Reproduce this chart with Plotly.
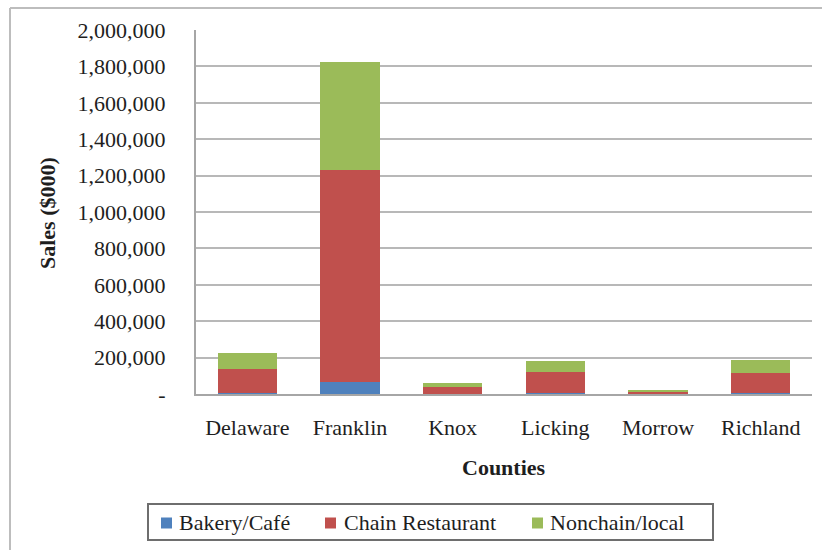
import plotly.graph_objects as go

# County restaurant sales, $000
counties = ["Delaware", "Franklin", "Knox", "Licking", "Morrow", "Richland"]
bakery_cafe = [3000, 68000, 2000, 3000, 1000, 3000]
chain_restaurant = [134000, 1165000, 35000, 118000, 11000, 110000]
nonchain_local = [88000, 590000, 23000, 63000, 5000, 74000]
series_names = ["Bakery/Café", "Chain Restaurant", "Nonchain/local"]
series_colors = ["#4F81BD", "#C0504D", "#9BBB59"]

y_ticks = [0, 200000, 400000, 600000, 800000, 1000000,
           1200000, 1400000, 1600000, 1800000, 2000000]
y_tick_text = ["-"] + [f"{v:,}" for v in y_ticks[1:]]

W, H = 822, 550
ML, MR, MT, MB = 196, 10, 30, 156
FONT = "Liberation Serif"
INK = "#1e1e1e"

fig = go.Figure()
for name, vals, color in zip(series_names,
                             [bakery_cafe, chain_restaurant, nonchain_local],
                             series_colors):
    fig.add_trace(go.Bar(name=name, x=counties, y=vals,
                         marker=dict(color=color, line=dict(width=0))))

pw = W - ML - MR
ph = H - MT - MB


def px_x(p):
    return (p - ML) / pw


def px_y(p):
    return (H - MB - p) / ph


# Legend drawn as a framed row of swatches and serif labels
legend_box = (148, 504, 713, 540)
legend_swatch_left = [161, 325, 532]
legend_text_left = [177, 342, 548]
legend_mid = 522
swatch = 11

shapes = [
    # outer chart frame (top and left edges)
    dict(type="line", xref="paper", yref="paper",
         x0=px_x(10), x1=px_x(822), y0=px_y(8), y1=px_y(8),
         line=dict(color="#BDBDBD", width=2)),
    dict(type="line", xref="paper", yref="paper",
         x0=px_x(10), x1=px_x(10), y0=px_y(8), y1=px_y(550),
         line=dict(color="#BDBDBD", width=2)),
    dict(type="rect", xref="paper", yref="paper",
         x0=px_x(legend_box[0]), x1=px_x(legend_box[2]),
         y0=px_y(legend_box[1]), y1=px_y(legend_box[3]),
         line=dict(color="#6E6E6E", width=2), fillcolor="white"),
]
annotations = [
    dict(text="<b>Counties</b>", xref="paper", yref="paper",
         x=px_x(504), y=px_y(467), xanchor="center", yanchor="middle",
         showarrow=False, font=dict(family=FONT, size=22, color=INK)),
    dict(text="<b>Sales ($000)</b>", xref="paper", yref="paper",
         x=px_x(47), y=px_y(213), xanchor="center", yanchor="middle",
         textangle=-90, showarrow=False,
         font=dict(family=FONT, size=22, color=INK)),
]
for name, color, sx, tx in zip(series_names, series_colors,
                               legend_swatch_left, legend_text_left):
    shapes.append(dict(type="rect", xref="paper", yref="paper",
                       x0=px_x(sx), x1=px_x(sx + swatch),
                       y0=px_y(legend_mid - swatch / 2 + 1),
                       y1=px_y(legend_mid + swatch / 2 + 1),
                       line=dict(width=0), fillcolor=color))
    annotations.append(dict(text=name, xref="paper", yref="paper",
                            x=px_x(tx), y=px_y(legend_mid),
                            xanchor="left", yanchor="middle",
                            showarrow=False,
                            font=dict(family=FONT, size=22, color=INK)))

fig.update_layout(
    width=W, height=H,
    margin=dict(l=ML, r=MR, t=MT, b=MB, autoexpand=False),
    barmode="stack",
    bargap=0.42,
    paper_bgcolor="white",
    plot_bgcolor="white",
    font=dict(family=FONT, size=22, color=INK),
    showlegend=False,
    xaxis=dict(
        showgrid=False,
        showline=True, linecolor="#A6A6A6", linewidth=2,
        ticks="outside", ticklen=0,
        ticklabelstandoff=13,
        tickfont=dict(family=FONT, size=22, color=INK),
        range=[-0.5, 5.5],
        fixedrange=True,
    ),
    yaxis=dict(
        range=[0, 2000000],
        tickvals=y_ticks, ticktext=y_tick_text,
        showgrid=True, gridcolor="#B8B8B8", gridwidth=2,
        showline=True, linecolor="#A6A6A6", linewidth=2,
        zeroline=False,
        ticks="outside", ticklen=0,
        ticklabelstandoff=24,
        tickfont=dict(family=FONT, size=22, color=INK),
        fixedrange=True,
    ),
    annotations=annotations,
    shapes=shapes,
)

fig.write_html("out.html")
